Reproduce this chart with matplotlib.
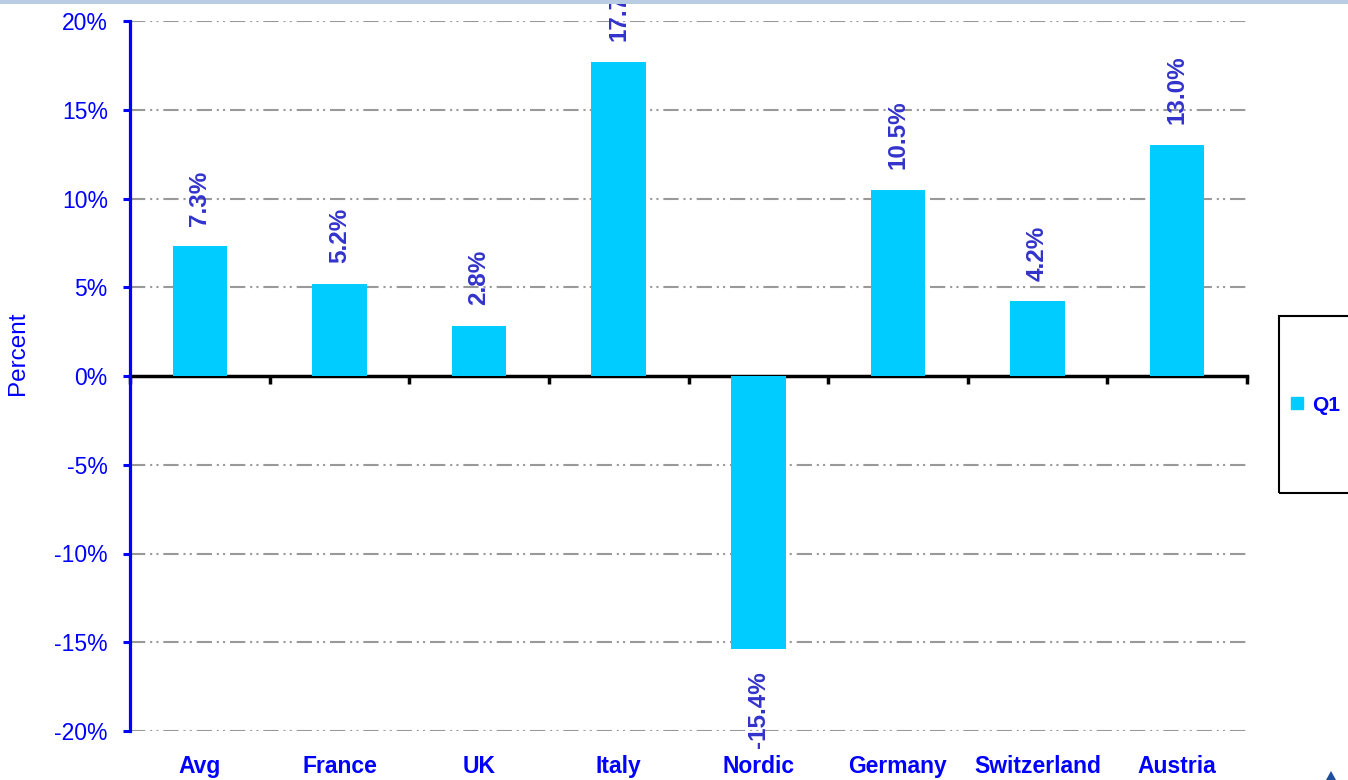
import matplotlib
matplotlib.use("Agg")
import matplotlib.pyplot as plt
from matplotlib.patches import Rectangle, Polygon
from matplotlib.lines import Line2D
import numpy as np

plt.rcParams['font.family'] = ['Liberation Sans', 'DejaVu Sans']
plt.rcParams['lines.scale_dashes'] = False

categories = ["Avg", "France", "UK", "Italy", "Nordic", "Germany", "Switzerland", "Austria"]
values = [7.3, 5.2, 2.8, 17.7, -15.4, 10.5, 4.2, 13.0]
yticks = [-20, -15, -10, -5, 0, 5, 10, 15, 20]
series_name = "Q1"

bar_color = "#00ccff"
blue = "#0000ff"
label_color = "#3333cc"

W, H = 1348, 780
fig = plt.figure(figsize=(W / 100, H / 100), dpi=100)
ax = fig.add_axes([130 / W, 1 - 731 / H, (1247 - 130) / W, (731 - 21) / H])

x = np.arange(len(categories))
ax.bar(x, values, width=0.39, color=bar_color, zorder=3)

ax.set_xlim(-0.5, len(categories) - 0.5)
ax.set_ylim(-20, 20)

# grid lines
ls = (0, (11, 3.5, 1.5, 3, 1.5, 3.5))
for yv in yticks:
    if yv != 0:
        ax.axhline(yv, color="#999999", lw=1.5, linestyle=ls, zorder=1)

ax.set_yticks(yticks)
ax.set_yticklabels([f"{v}%" for v in yticks])
ax.tick_params(axis='y', colors=blue, labelsize=16.5, length=5, width=2.2, pad=11, direction='out')

ax.set_xticks(x)
ax.set_xticklabels(categories, fontweight='bold', color=blue, fontsize=16.5)
ax.tick_params(axis='x', length=0, pad=17)

for s in ['top', 'right', 'bottom']:
    ax.spines[s].set_visible(False)
ax.spines['left'].set_color(blue)
ax.spines['left'].set_linewidth(2.3)

# zero axis with boundary ticks
sec = ax.secondary_xaxis(0.5)
sec.set_xticks(np.arange(len(categories) + 1) - 0.5)
sec.set_xticklabels([])
for s in sec.spines.values():
    s.set_linewidth(2.5)
    s.set_color('black')
sec.tick_params(axis='x', direction='in', length=6, width=2.5, color='black',
                top=True, bottom=False)

# data labels
for xi, v in zip(x, values):
    if v >= 0:
        ax.annotate(f"{v:.1f}%", (xi, v), xytext=(0, 15), textcoords='offset points',
                    rotation=90, ha='center', va='bottom', fontsize=17.5,
                    fontweight='bold', color=label_color, annotation_clip=False, zorder=4)
    else:
        ax.annotate(f"{v:.1f}%", (xi, v), xytext=(0, -16), textcoords='offset points',
                    rotation=90, ha='center', va='top', fontsize=17.5,
                    fontweight='bold', color=label_color, annotation_clip=False, zorder=4)

fig.text(18 / W, 1 - 353 / H, "Percent", rotation=90, ha='center', va='center',
         color=blue, fontsize=17.5)

# legend
fig.patches.append(Rectangle((1279 / W, 1 - 493 / H), 120 / W, 177 / H, transform=fig.transFigure,
                             fill=False, ec='black', lw=1.5, figure=fig))
handle = Line2D([], [], marker='s', color=bar_color, linestyle='none', markersize=8)
leg = fig.legend([handle], [series_name], loc='center left',
                 bbox_to_anchor=(1287 / W, 1 - 405 / H), frameon=False,
                 handletextpad=0.2, handlelength=1.0, borderpad=0, borderaxespad=0,
                 prop={'weight': 'bold', 'size': 15})
for t in leg.get_texts():
    t.set_color(blue)

# top band
fig.patches.append(Rectangle((0, 1 - 4 / H), 1, 4 / H, transform=fig.transFigure,
                             color="#b8cce4", lw=0, figure=fig))
# small triangle bottom right
fig.patches.append(Polygon([[1326 / W, 0], [1336 / W, 0], [1331 / W, 1 - 771 / H]], closed=True,
                           transform=fig.transFigure, color="#1f4e9c", lw=0, figure=fig))

fig.savefig("out.png", dpi=100)
